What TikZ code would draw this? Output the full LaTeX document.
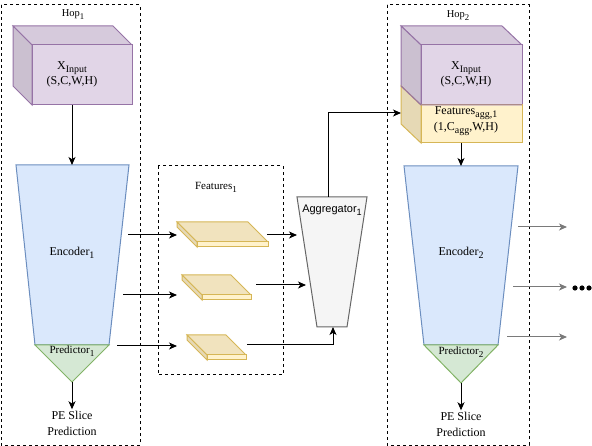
\documentclass[tikz,border=0pt]{standalone}
\usepackage{fontspec}
\setmainfont{Liberation Serif}
\setsansfont{Liberation Sans}
\usetikzlibrary{arrows.meta}

\definecolor{inpfill}{HTML}{E1D5E7}
\definecolor{inptop}{HTML}{D6CADC}
\definecolor{inpside}{HTML}{CBC0D0}
\definecolor{inpdraw}{HTML}{9673A6}
\definecolor{featfill}{HTML}{FFF2CC}
\definecolor{feattop}{HTML}{F1E3BE}
\definecolor{featside}{HTML}{E6D9B5}
\definecolor{featdraw}{HTML}{D6B656}
\definecolor{encfill}{HTML}{DAE8FC}
\definecolor{encdraw}{HTML}{6C8EBF}
\definecolor{predfill}{HTML}{D5E8D4}
\definecolor{preddraw}{HTML}{82B366}
\definecolor{aggfill}{HTML}{F5F5F5}
\definecolor{aggdraw}{HTML}{666666}
\definecolor{outgray}{HTML}{7A7A7A}

\newcommand{\subtx}[1]{\raisebox{-0.28em}{\scalebox{0.83}{#1}}}

\begin{document}
\begin{tikzpicture}[x=1pt,y=-1pt,line width=1pt,
  hop/.style={draw,dash pattern=on 3pt off 3pt},
  arr/.style={-{Stealth[length=8pt,width=7pt,inset=2.2pt]}},
  grayarr/.style={arr,outgray},
  txt/.style={inner sep=1pt,align=center,font=\fontsize{12}{15}\selectfont},
  small/.style={inner sep=1pt,align=center,font=\fontsize{11}{13}\selectfont}]
\useasboundingbox (0,0) rectangle (592,446);

% dashed boxes
\draw[hop] (1,5) rectangle (140,445);
\draw[hop] (387,5) rectangle (529,445);
\draw[hop] (158,166) rectangle (283,375);
\node[small,font=\fontsize{10.5}{12}\selectfont] (hop1) at (73,15) {Hop\subtx{1}};
\node[small,font=\fontsize{10.5}{12}\selectfont] (hop2) at (458,16) {Hop\subtx{2}};
\node[small] (feats) at (216,187) {Features\subtx{1}};

% input cube, hop 1
\filldraw[inpdraw,fill=inptop] (13,26) -- (113,26) -- (132,45) -- (32,45) -- cycle;
\filldraw[inpdraw,fill=inpside] (13,26) -- (32,45) -- (32,105) -- (13,86) -- cycle;
\filldraw[inpdraw,fill=inpfill] (32,45) rectangle (132,105);
\node[txt] (xin1) at (72,74) {X\subtx{Input}\\(S,C,W,H)};

% input cube, hop 2
\filldraw[inpdraw,fill=inptop] (401,26) -- (502,26) -- (522,45) -- (421,45) -- cycle;
\filldraw[inpdraw,fill=inpside] (401,26) -- (421,45) -- (421,105) -- (401,86) -- cycle;
\filldraw[featdraw,fill=featside] (401,86) -- (421,105) -- (421,143) -- (401,124) -- cycle;
\filldraw[inpdraw,fill=inpfill] (421,45) rectangle (522,105);
\filldraw[featdraw,fill=featfill] (421,105) rectangle (522,143);
\draw[inpdraw] (401,86) -- (421,105) -- (522,105);
\node[txt] (xin2) at (466,74) {X\subtx{Input}\\(S,C,W,H)};
\node[txt,font=\fontsize{12}{16}\selectfont] (fagg) at (466,121) {Features\subtx{agg,1}\\(1,C\subtx{agg},W,H)};

% encoders and predictors
\filldraw[encdraw,fill=encfill] (16,165) -- (129,165) -- (109,345) -- (35,345) -- cycle;
\filldraw[preddraw,fill=predfill] (35,345) -- (109,345) -- (72,382) -- cycle;
\filldraw[encdraw,fill=encfill] (404,166) -- (518,166) -- (498,345) -- (424,345) -- cycle;
\filldraw[preddraw,fill=predfill] (424,345) -- (498,345) -- (461,383) -- cycle;
\node[txt] (enc1) at (72,253) {Encoder\subtx{1}};
\node[txt] (enc2) at (461,253) {Encoder\subtx{2}};
\node[small] (pred1) at (72,351) {Predictor\subtx{1}};
\node[small] (pred2) at (461,352) {Predictor\subtx{2}};
\node[txt,font=\fontsize{12}{16}\selectfont] (pe1) at (72,423) {PE Slice\\Prediction};
\node[txt,font=\fontsize{12}{16}\selectfont] (pe2) at (461,424) {PE Slice\\Prediction};

% feature slabs
\foreach \n/\x/\y/\w in {1/177/222/71, 2/182/275/49, 3/187/335/39} {
  \filldraw[featdraw,fill=feattop] (\x,\y) -- ++(\w,0) -- ++(20,20) -- ++(-\w,0) -- cycle;
  \filldraw[featdraw,fill=featside] (\x,\y) -- ++(20,20) -- ++(0,5) -- ++(-20,-20) -- cycle;
  \filldraw[featdraw,fill=featfill] (\x+20,\y+20) rectangle ++(\w,5);
}

% aggregator
\filldraw[aggdraw,fill=aggfill] (297,197) -- (367,197) -- (347,327) -- (317,327) -- cycle;
\node[small,font=\fontsize{11}{13}\sffamily] (agg) at (332,210) {Aggregator\subtx{1}};

% connector ends
\coordinate (in1s) at (72,105);
\coordinate (enc1n) at (72,165);
\coordinate (pred1s) at (72,382);
\coordinate (in2s) at (461,143);
\coordinate (enc2n) at (461,166);
\coordinate (pred2s) at (461,383);
\coordinate (e1a) at (128,235); \coordinate (f1in) at (177,235);
\coordinate (e1b) at (123,295); \coordinate (f2in) at (177,295);
\coordinate (e1c) at (117,346); \coordinate (f3in) at (177,346);
\coordinate (f1out) at (267,235); \coordinate (agga) at (297,235);
\coordinate (f2out) at (256,285); \coordinate (aggb) at (306,285);
\coordinate (f3out) at (247,345); \coordinate (aggs) at (333,327);
\coordinate (aggn) at (328,197); \coordinate (in2w) at (401,113);
\coordinate (e2a) at (518,227); \coordinate (o1) at (567,227);
\coordinate (e2b) at (513,287); \coordinate (o2) at (567,287);
\coordinate (e2c) at (507,337); \coordinate (o3) at (567,337);

% connectors
\draw[arr] (in1s) -- (enc1n);
\draw[arr] (pred1s) -- (pe1.north);
\draw[arr] (in2s) -- (enc2n);
\draw[arr] (pred2s) -- (pe2.north);
\draw[arr] (e1a) -- (f1in);
\draw[arr] (e1b) -- (f2in);
\draw[arr] (e1c) -- (f3in);
\draw[arr] (f1out) -- (agga);
\draw[arr] (f2out) -- (aggb);
\draw[arr] (f3out) -| (aggs);
\draw[arr] (aggn) |- (in2w);
\draw[grayarr] (e2a) -- (o1);
\draw[grayarr] (e2b) -- (o2);
\draw[grayarr] (e2c) -- (o3);
\foreach \x in {575,582,589} \fill (\x,288) circle (2.6pt);

\end{tikzpicture}
\end{document}
